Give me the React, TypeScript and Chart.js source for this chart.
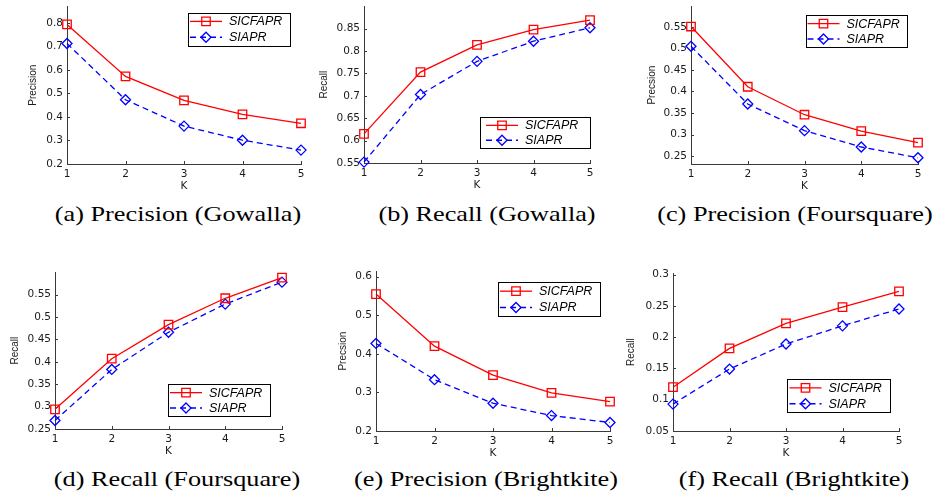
import React, { useEffect, useRef } from 'react';
import { Chart, registerables } from 'chart.js';

Chart.register(...registerables);

// ---------- data ----------
const K = ['1', '2', '3', '4', '5'];
const SERIES_NAMES = ['SICFAPR', 'SIAPR'];

const sicfaprPrecGowalla = [0.793, 0.572, 0.47, 0.411, 0.373];
const siaprPrecGowalla = [0.712, 0.473, 0.361, 0.301, 0.259];
const sicfaprRecGowalla = [0.615, 0.753, 0.814, 0.848, 0.869];
const siaprRecGowalla = [0.552, 0.703, 0.777, 0.822, 0.852];
const sicfaprPrecFour = [0.551, 0.411, 0.346, 0.308, 0.281];
const siaprPrecFour = [0.505, 0.371, 0.309, 0.271, 0.246];
const sicfaprRecFour = [0.294, 0.407, 0.483, 0.542, 0.588];
const siaprRecFour = [0.269, 0.383, 0.466, 0.529, 0.578];
const sicfaprPrecBright = [0.555, 0.42, 0.345, 0.299, 0.276];
const siaprPrecBright = [0.427, 0.333, 0.272, 0.24, 0.222];
const sicfaprRecBright = [0.12, 0.182, 0.222, 0.248, 0.273];
const siaprRecBright = [0.093, 0.149, 0.189, 0.218, 0.245];

const yTicksPrecGowalla = [0.2, 0.3, 0.4, 0.5, 0.6, 0.7, 0.8];
const yTicksRecGowalla = [0.55, 0.6, 0.65, 0.7, 0.75, 0.8, 0.85];
const yTicksPrecFour = [0.25, 0.3, 0.35, 0.4, 0.45, 0.5, 0.55];
const yTicksRecFour = [0.25, 0.3, 0.35, 0.4, 0.45, 0.5, 0.55];
const yTicksPrecBright = [0.2, 0.3, 0.4, 0.5, 0.6];
const yTicksRecBright = [0.05, 0.1, 0.15, 0.2, 0.25, 0.3];

// ---------- layout / style ----------
const AX = '#3a3a3a';
const TXT = '#1a1a1a';
const YW = 60;
const XH = 30;
const PT = 6;
const PR = 15;

type Box = { L: number; R: number; T: number; B: number };
type Panel = {
  s1: number[]; s2: number[]; yTicks: number[]; yMin: number; yMax: number;
  yTitle: string; caption: string; box: Box; titleGap: number;
  legend: { x: number; y: number; w: number; h: number };
  cap: { cx: number; top: number };
};

const panels: Panel[] = [
  { s1: sicfaprPrecGowalla, s2: siaprPrecGowalla, yTicks: yTicksPrecGowalla, yMin: 0.2, yMax: 0.87,
    yTitle: 'Precision', caption: '(a) Precision (Gowalla)', box: { L: 67, R: 301, T: 5, B: 164 }, titleGap: 20,
    legend: { x: 188, y: 12.5, w: 102, h: 33 }, cap: { cx: 178, top: 204 } },
  { s1: sicfaprRecGowalla, s2: siaprRecGowalla, yTicks: yTicksRecGowalla, yMin: 0.55, yMax: 0.9,
    yTitle: 'Recall', caption: '(b) Recall (Gowalla)', box: { L: 364, R: 590, T: 5, B: 163 }, titleGap: 14,
    legend: { x: 480, y: 117, w: 110, h: 31 }, cap: { cx: 487, top: 204 } },
  { s1: sicfaprPrecFour, s2: siaprPrecFour, yTicks: yTicksPrecFour, yMin: 0.2315, yMax: 0.598,
    yTitle: 'Precsion', caption: '(c) Precision (Foursquare)', box: { L: 691, R: 918, T: 5, B: 164 }, titleGap: 15,
    legend: { x: 806, y: 15, w: 101, h: 32 }, cap: { cx: 795, top: 204 } },
  { s1: sicfaprRecFour, s2: siaprRecFour, yTicks: yTicksRecFour, yMin: 0.25, yMax: 0.6,
    yTitle: 'Recall', caption: '(d) Recall (Foursquare)', box: { L: 55, R: 282, T: 271, B: 429 }, titleGap: 14,
    legend: { x: 168, y: 384, w: 102, h: 32 }, cap: { cx: 177, top: 469 } },
  { s1: sicfaprPrecBright, s2: siaprPrecBright, yTicks: yTicksPrecBright, yMin: 0.2, yMax: 0.614,
    yTitle: 'Precsion', caption: '(e) Precision (Brightkite)', box: { L: 376, R: 610, T: 270, B: 431 }, titleGap: 21,
    legend: { x: 498, y: 282, w: 102, h: 34 }, cap: { cx: 486, top: 469 } },
  { s1: sicfaprRecBright, s2: siaprRecBright, yTicks: yTicksRecBright, yMin: 0.05, yMax: 0.302,
    yTitle: 'Recall', caption: '(f) Recall (Brightkite)', box: { L: 673, R: 899, T: 272, B: 431 }, titleGap: 12,
    legend: { x: 787, y: 379, w: 103, h: 33 }, cap: { cx: 794, top: 469 } },
];

const fmt = (v: any) => String(parseFloat(Number(v).toFixed(2)));

const inwardTicks = {
  id: 'inwardTicks',
  beforeDatasetsDraw(chart: any) {
    const { ctx, chartArea: a, scales } = chart;
    const x = scales.x, y = scales.y;
    ctx.save();
    ctx.strokeStyle = AX;
    ctx.lineWidth = 1;
    ctx.beginPath();
    x.ticks.forEach((_t: any, i: number) => {
      const px = Math.round(x.getPixelForTick(i)) + 0.5;
      ctx.moveTo(px, a.bottom);
      ctx.lineTo(px, a.bottom - 3);
    });
    y.ticks.forEach((t: any) => {
      const py = Math.round(y.getPixelForValue(t.value)) + 0.5;
      ctx.moveTo(a.left, py);
      ctx.lineTo(a.left + 3, py);
    });
    ctx.stroke();
    ctx.restore();
  },
};

function drawMarker(ctx: CanvasRenderingContext2D, style: string, cx: number, cy: number, r: number) {
  ctx.beginPath();
  if (style === 'rect') {
    const s = Math.SQRT1_2 * r;
    ctx.rect(cx - s, cy - s, 2 * s, 2 * s);
  } else {
    ctx.moveTo(cx - r, cy);
    ctx.lineTo(cx, cy - r);
    ctx.lineTo(cx + r, cy);
    ctx.lineTo(cx, cy + r);
    ctx.closePath();
  }
  ctx.stroke();
}

const matlabLegend = {
  id: 'matlabLegend',
  afterDraw(chart: any, _args: any, opts: any) {
    const { ctx } = chart;
    const { x, y, w, h } = opts;
    ctx.save();
    ctx.fillStyle = '#ffffff';
    ctx.fillRect(x, y, w, h);
    ctx.strokeStyle = '#000';
    ctx.lineWidth = 1;
    ctx.setLineDash([]);
    ctx.strokeRect(Math.round(x) + 0.5, Math.round(y) + 0.5, Math.round(w), Math.round(h));
    const pad = 2 + (w - 102) / 2;
    chart.data.datasets.forEach((ds: any, i: number) => {
      const ry = y + h * (i === 0 ? 0.27 : 0.75);
      ctx.strokeStyle = ds.borderColor;
      ctx.lineWidth = ds.borderWidth;
      ctx.setLineDash(ds.borderDash || []);
      ctx.beginPath();
      ctx.moveTo(x + pad, ry);
      ctx.lineTo(x + pad + 32, ry);
      ctx.stroke();
      ctx.setLineDash([]);
      ctx.lineWidth = ds.pointBorderWidth;
      drawMarker(ctx, ds.pointStyle, x + pad + 16, ry, ds.pointRadius);
      ctx.fillStyle = '#000';
      ctx.font = 'italic 12.5px "Liberation Sans", Arial, sans-serif';
      ctx.textBaseline = 'middle';
      ctx.textAlign = 'left';
      ctx.fillText(ds.label, x + pad + 39, ry + 0.5);
    });
    ctx.restore();
  },
};

function PanelChart({ p }: { p: Panel }) {
  const ref = useRef<HTMLCanvasElement>(null);
  const left = p.box.L - YW;
  const top = p.box.T - PT;
  const width = p.box.R - p.box.L + YW + PR;
  const height = p.box.B - p.box.T + PT + XH;

  useEffect(() => {
    const tickFont = { family: '"DejaVu Sans", sans-serif', size: 10.5 };
    const chart = new Chart(ref.current as HTMLCanvasElement, {
      type: 'line',
      data: {
        labels: K,
        datasets: [
          {
            label: SERIES_NAMES[0], data: p.s1, borderColor: '#ff0000', backgroundColor: 'rgba(0,0,0,0)',
            borderWidth: 1.3, pointStyle: 'rect', pointRadius: 6, pointBorderWidth: 1.3,
            pointBorderColor: '#ff0000', pointBackgroundColor: 'rgba(0,0,0,0)', tension: 0, clip: false,
          } as any,
          {
            label: SERIES_NAMES[1], data: p.s2, borderColor: '#0000ff', backgroundColor: 'rgba(0,0,0,0)',
            borderWidth: 1.3, borderDash: [6, 4], pointStyle: 'rectRot', pointRadius: 5, pointBorderWidth: 1.3,
            pointBorderColor: '#0000ff', pointBackgroundColor: 'rgba(0,0,0,0)', tension: 0, clip: false,
          } as any,
        ],
      },
      options: {
        animation: false,
        responsive: false,
        devicePixelRatio: 1,
        layout: { padding: { left: 0, top: PT, right: PR, bottom: 0 } },
        plugins: {
          legend: { display: false },
          tooltip: { enabled: false },
          matlabLegend: { x: p.legend.x - left, y: p.legend.y - top, w: p.legend.w, h: p.legend.h },
        } as any,
        scales: {
          x: {
            type: 'category',
            offset: false,
            grid: { display: false, drawTicks: false },
            border: { display: true, color: AX, width: 1 },
            ticks: { font: tickFont, color: TXT, padding: 4, maxRotation: 0, autoSkip: false },
            title: { display: true, text: 'K', font: tickFont, color: TXT, padding: { top: 0, bottom: 1.5 } },
            afterFit: (s: any) => { s.height = XH; s.paddingLeft = 0; s.paddingRight = 0; },
          },
          y: {
            type: 'linear',
            min: p.yMin,
            max: p.yMax,
            grid: { display: false, drawTicks: false },
            border: { display: true, color: AX, width: 1 },
            afterBuildTicks: (s: any) => { s.ticks = p.yTicks.map((v) => ({ value: v })); },
            ticks: { font: tickFont, color: TXT, padding: 4, callback: (v: any) => fmt(v) },
            title: {
              display: true, text: p.yTitle, color: TXT,
              font: { family: '"Liberation Sans", Arial, sans-serif', size: 10 },
              padding: { top: p.titleGap, bottom: 0 },
            },
            afterFit: (s: any) => { s.width = YW; s.paddingTop = 0; s.paddingBottom = 0; },
          },
        },
      } as any,
      plugins: [inwardTicks, matlabLegend],
    });
    return () => chart.destroy();
  }, []);

  return (
    <canvas
      ref={ref}
      width={width}
      height={height}
      style={{ position: 'absolute', left, top, width, height }}
    />
  );
}

export default function App() {
  return (
    <div style={{ position: 'absolute', left: 0, top: 0, width: 936, height: 498, background: '#fff', overflow: 'hidden' }}>
      {panels.map((p, i) => (
        <PanelChart key={i} p={p} />
      ))}
      {panels.map((p, i) => (
        <div
          key={'c' + i}
          style={{
            position: 'absolute', left: p.cap.cx - 200, top: p.cap.top, width: 400, textAlign: 'center',
            fontFamily: '"Liberation Serif", "Times New Roman", serif', fontSize: 21, lineHeight: '21px',
            color: '#000', transform: 'scaleX(1.25)', whiteSpace: 'nowrap',
          }}
        >
          {p.caption}
        </div>
      ))}
    </div>
  );
}
